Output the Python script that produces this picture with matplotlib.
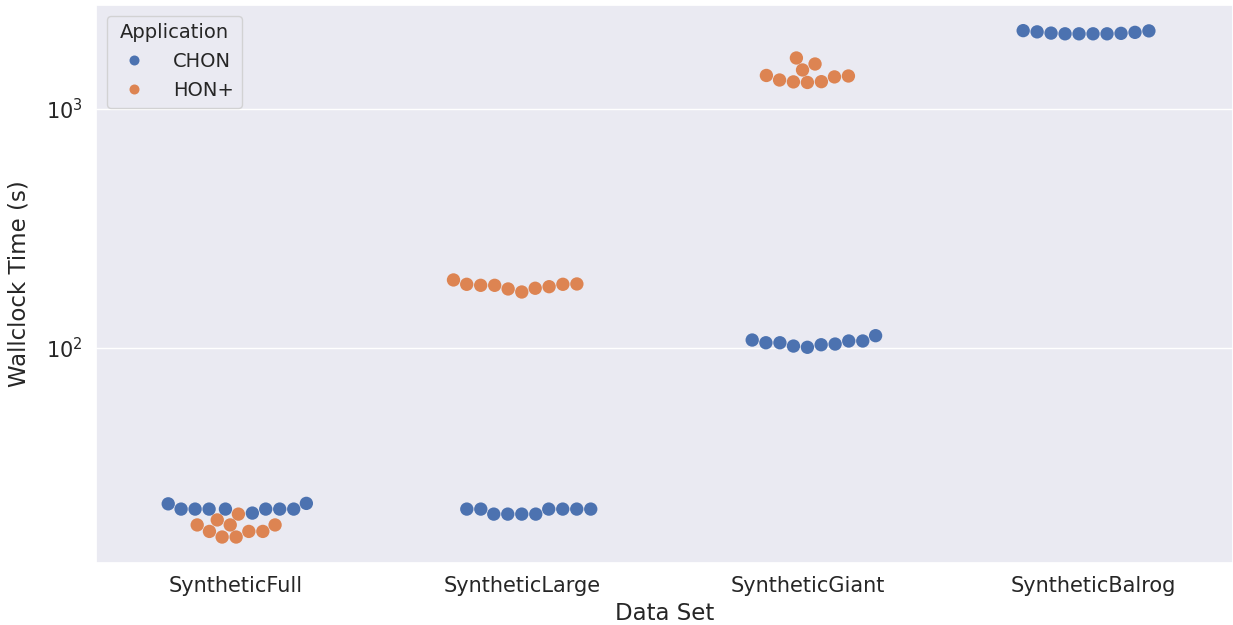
import numpy as np
import pandas as pd
import matplotlib
matplotlib.use("Agg")
import matplotlib.pyplot as plt
import seaborn as sns

# wallclock times (s), 10 runs per data set / application
datasets = ["SyntheticFull", "SyntheticLarge", "SyntheticGiant", "SyntheticBalrog"]
applications = ["CHON", "HON+"]

chon_full = [22.4, 21.2, 21.2, 21.2, 21.2, 20.4, 21.2, 21.2, 21.2, 22.3]
hon_full = [18.2, 18.2, 17.1, 16.2, 16.2, 17.1, 17.1, 18.2, 19.1, 20.2]
chon_large = [21.2, 21.2, 21.2, 20.2, 20.2, 20.2, 20.2, 21.2, 21.2, 21.2]
hon_large = [192.6, 184.7, 182.9, 182.9, 176.6, 171.5, 177.8, 180.5, 184.7, 185.3]
chon_giant = [112.6, 107.0, 107.0, 103.9, 101.9, 100.7, 103.2, 105.2, 105.2, 108.0]
hon_giant = [1321, 1297, 1373, 1633, 1541, 1455, 1361, 1290, 1380, 1300]
chon_balrog = [2061, 2061, 2120, 2075, 2090, 2061, 2100, 2070, 2125, 2061]

rows = []
for ds, app, vals in [("SyntheticFull", "CHON", chon_full),
                      ("SyntheticFull", "HON+", hon_full),
                      ("SyntheticLarge", "CHON", chon_large),
                      ("SyntheticLarge", "HON+", hon_large),
                      ("SyntheticGiant", "CHON", chon_giant),
                      ("SyntheticGiant", "HON+", hon_giant),
                      ("SyntheticBalrog", "CHON", chon_balrog)]:
    for v in vals:
        rows.append({"Data Set": ds, "Application": app, "Wallclock Time (s)": v})
df = pd.DataFrame(rows)

sns.set_theme(style="darkgrid", palette="deep")
plt.rcParams['font.family'] = ['DejaVu Sans']

fig = plt.figure(figsize=(12.33, 6.25), dpi=100)
ax = fig.add_axes([0.078, 0.099, 0.922, 0.893])
ax.set_yscale("log")
sns.swarmplot(data=df, x="Data Set", y="Wallclock Time (s)", hue="Application",
              order=datasets, hue_order=applications, size=9.6, linewidth=0, ax=ax)
ax.set_ylim(12.6, 2720)
ax.set_xlim(-0.49, 3.49)
ax.yaxis.set_minor_locator(matplotlib.ticker.NullLocator())
ax.tick_params(axis="both", labelsize=15)
ax.set_xlabel("Data Set", fontsize=16.5)
ax.set_ylabel("Wallclock Time (s)", fontsize=16.5)
ax.yaxis.set_label_coords(-0.058, 0.5)
ax.xaxis.grid(False)
leg = ax.legend(title="Application", loc="upper left", fontsize=14, title_fontsize=14,
                markerscale=0.75, handletextpad=1.0, borderaxespad=0.55)

fig.savefig("out.png", dpi=100)
